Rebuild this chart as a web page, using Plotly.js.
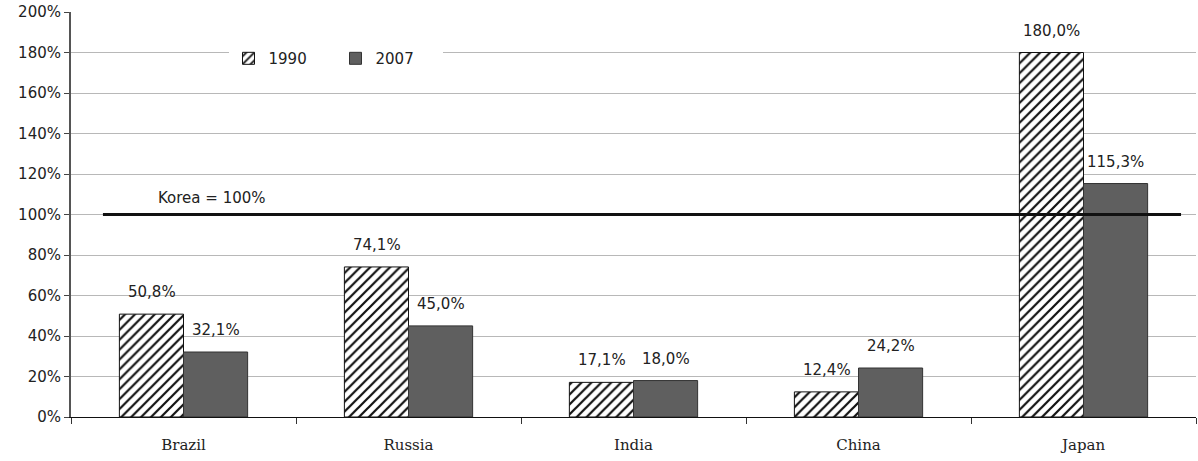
<!DOCTYPE html>
<html>
<head>
<meta charset="utf-8">
<script src="https://cdn.plot.ly/plotly-3.0.1.min.js"></script>
<style>
  html, body { margin: 0; padding: 0; background: #fff; }
  #chart { width: 1198px; height: 461px; }
</style>
</head>
<body>
<div id="chart"></div>
<script>
// Income relative to Korea (Korea = 100%)
const countries = ['Brazil', 'Russia', 'India', 'China', 'Japan'];
const values1990 = [50.8, 74.1, 17.1, 12.4, 180.0];
const values2007 = [32.1, 45.0, 18.0, 24.2, 115.3];
const yTickValues = [0, 20, 40, 60, 80, 100, 120, 140, 160, 180, 200];
const koreaLevel = 100;

const fmt = v => v.toFixed(1).replace('.', ',') + '%';

const numFont = { family: 'DejaVu Sans, Verdana, sans-serif', size: 15, color: '#222' };

const traces = [
  {
    type: 'bar',
    name: '1990',
    x: countries,
    y: values1990,
    marker: {
      color: '#ffffff',
      line: { color: '#111', width: 1 },
      pattern: { shape: '/', size: 7, solidity: 0.32, fgcolor: '#111', bgcolor: '#ffffff', fillmode: 'replace' }
    },
    hoverinfo: 'x+y'
  },
  {
    type: 'bar',
    name: '2007',
    x: countries,
    y: values2007,
    marker: { color: '#5f5f5f', line: { color: '#333', width: 1 } },
    hoverinfo: 'x+y'
  }
];

// value labels over each bar
const annotations = [];
countries.forEach((c, i) => {
  annotations.push({
    x: c, y: values1990[i], xref: 'x', yref: 'y',
    text: fmt(values1990[i]), showarrow: false,
    xanchor: 'center', yanchor: 'bottom', xshift: -32, yshift: 11,
    font: numFont
  });
  annotations.push({
    x: c, y: values2007[i], xref: 'x', yref: 'y',
    text: fmt(values2007[i]), showarrow: false,
    xanchor: 'center', yanchor: 'bottom', xshift: 32, yshift: 11,
    font: numFont
  });
});
annotations.push({
  x: 0.125, xref: 'paper', y: koreaLevel, yref: 'y',
  text: 'Korea = ' + koreaLevel + '%', showarrow: false,
  xanchor: 'center', yanchor: 'bottom', yshift: 6,
  font: numFont
});

const layout = {
  width: 1198,
  height: 461,
  margin: { l: 71, r: 2, t: 12, b: 44, pad: 0 },
  paper_bgcolor: '#ffffff',
  plot_bgcolor: '#ffffff',
  barmode: 'group',
  bargap: 0.43,
  bargroupgap: 0,
  showlegend: true,
  legend: {
    orientation: 'h',
    x: 0.14, xanchor: 'left',
    y: 0.885, yanchor: 'middle',
    bgcolor: '#ffffff',
    font: numFont,
    entrywidth: 62, entrywidthmode: 'pixels',
    traceorder: 'normal'
  },
  xaxis: {
    type: 'category',
    showline: true, linecolor: '#111', linewidth: 1,
    ticks: 'outside', tickson: 'boundaries', ticklen: 6, tickcolor: '#333',
    ticklabelstandoff: 14,
    showgrid: false, zeroline: false,
    tickfont: { family: 'DejaVu Serif, Liberation Serif, serif', size: 15, color: '#222' }
  },
  yaxis: {
    range: [0, 200],
    tickvals: yTickValues,
    ticktext: yTickValues.map(v => v + '%'),
    showline: true, linecolor: '#555', linewidth: 2,
    ticks: 'outside', ticklen: 5, tickcolor: '#444', tickwidth: 1,
    showgrid: true, gridcolor: '#b8b8b8', gridwidth: 1,
    zeroline: false,
    tickfont: numFont
  },
  shapes: [
    {
      type: 'line', xref: 'paper', yref: 'y',
      x0: 0.0284, x1: 0.9867, y0: koreaLevel, y1: koreaLevel,
      line: { color: '#111', width: 3 }
    }
  ],
  annotations: annotations
};

Plotly.newPlot('chart', traces, layout, { displayModeBar: false, staticPlot: true });
</script>
</body>
</html>
